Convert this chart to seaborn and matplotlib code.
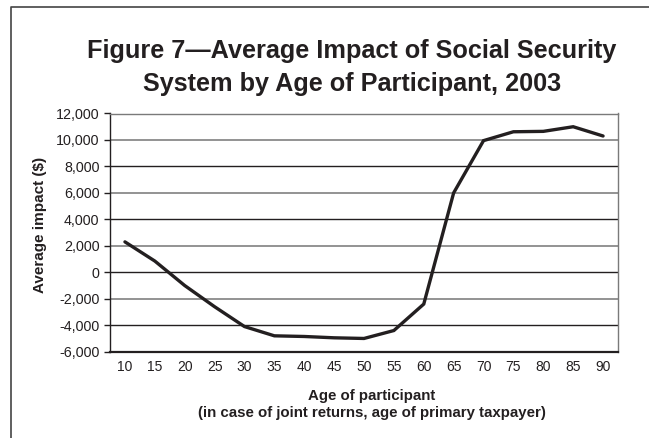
import matplotlib
matplotlib.use("Agg")
import matplotlib.pyplot as plt
from matplotlib.lines import Line2D
from matplotlib.ticker import FuncFormatter
import pandas as pd
import seaborn as sns

# Average impact of the Social Security system by participant age, 2003
ages = [10, 15, 20, 25, 30, 35, 40, 45, 50, 55, 60, 65, 70, 75, 80, 85, 90]
impact = [2300, 850, -1000, -2600, -4100, -4800, -4850, -4950, -5000,
          -4400, -2400, 6000, 9950, 10620, 10650, 11000, 10300]
y_ticks = list(range(-6000, 12001, 2000))

title_lines = ["Figure 7\u2014Average Impact of Social Security",
               "System by Age of Participant, 2003"]
x_label_lines = ["Age of participant",
                 "(in case of joint returns, age of primary taxpayer)"]
y_label = "Average impact ($)"

df = pd.DataFrame({"age": ages, "impact": impact})

sns.set_theme(style="white")
plt.rcParams["font.family"] = ["Liberation Sans", "DejaVu Sans"]
ink = "#231f20"

W, H = 649, 438
fig = plt.figure(figsize=(W / 100, H / 100), dpi=100)
ax = fig.add_axes([110 / W, 1 - 351.7 / H, (618 - 110) / W, (351.7 - 113.5) / H])

# horizontal gridlines: dark at multiples of 4000, lighter in between
for v in y_ticks[1:-1]:
    dark = (v % 4000 == 0)
    ax.axhline(v, color=ink if dark else "#8a8a8a", lw=1.0 if dark else 1.3,
               zorder=1)

sns.lineplot(data=df, x="age", y="impact", ax=ax, color=ink, lw=2.4,
             zorder=3, solid_joinstyle="miter")

ax.set_xlim(7.5, 92.5)
ax.set_ylim(-6000, 12000)
ax.set_xticks(ages)
ax.set_xticklabels([str(a) for a in ages])
ax.set_yticks(y_ticks)
ax.yaxis.set_major_formatter(FuncFormatter(lambda v, p: f"{int(v):,}"))
ax.tick_params(axis="x", length=0, pad=6, labelsize=10, labelcolor=ink)
ax.tick_params(axis="y", length=4, width=1, color=ink, pad=3.5,
               labelsize=10.3, labelcolor=ink, left=True)
ax.set_xlabel("")
ax.set_ylabel("")

for side in ["left", "bottom"]:
    ax.spines[side].set_color(ink)
ax.spines["left"].set_linewidth(1.0)
ax.spines["bottom"].set_linewidth(1.6)
for side in ["top", "right"]:
    ax.spines[side].set_color("#7a7a7a")
    ax.spines[side].set_linewidth(1.0)

# titles and axis labels
fig.text(352 / W, 1 - 58 / H, title_lines[0], ha="center", va="baseline",
         fontsize=18.2, fontweight="bold", color=ink)
fig.text(352 / W, 1 - 91 / H, title_lines[1], ha="center", va="baseline",
         fontsize=18.2, fontweight="bold", color=ink)
fig.text(40 / W, 1 - 225 / H, y_label, rotation=90, ha="center", va="center",
         fontsize=11, fontweight="bold", color=ink)
fig.text(372 / W, 1 - 400 / H, x_label_lines[0], ha="center", va="baseline",
         fontsize=10.8, fontweight="bold", color=ink)
fig.text(372 / W, 1 - 417 / H, x_label_lines[1], ha="center", va="baseline",
         fontsize=10.8, fontweight="bold", color=ink)

# frame around the figure (top and left edges)
fig.add_artist(Line2D([10.7 / W, 10.7 / W, 1.0], [0.0, 1 - 7.3 / H, 1 - 7.3 / H],
                      transform=fig.transFigure, color="#444444", lw=1.2))

fig.savefig("out.png", dpi=100)
